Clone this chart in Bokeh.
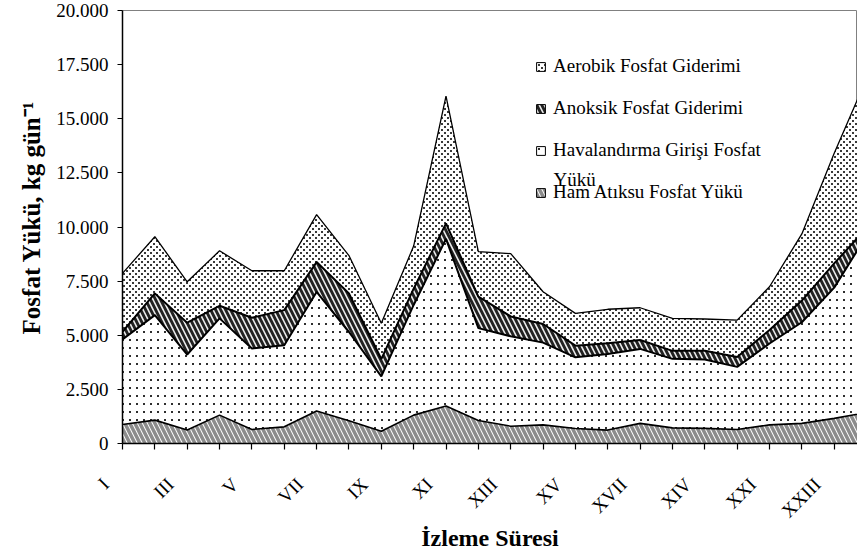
import math
from bokeh.plotting import figure
from bokeh.core.properties import value
from bokeh.models import (ColumnDataSource, Range1d, FixedTicker, CustomJSTickFormatter,
                          Legend, LegendItem, Label, CanvasTexture)
from bokeh.transform import stack
from bokeh.embed import file_html
from bokeh.resources import INLINE

# ---- data (kg/gün) ----
periods = ["I", "II", "III", "IV", "V", "VI", "VII", "VIII", "IX", "X", "XI", "XII",
           "XIII", "XIV", "XV", "XVI", "XVII", "XVIII", "XIV", "XX", "XXI", "XXII", "XXIII", "XXIV"]
ham = [880, 1080, 620, 1310, 650, 770, 1500, 1050, 570, 1310, 1730, 1060,
       800, 860, 690, 620, 930, 720, 700, 650, 860, 930, 1160, 1430]
hav = [3930, 4850, 3490, 4470, 3740, 3770, 5500, 4100, 2530, 5090, 7720, 4270,
       4150, 3800, 3290, 3510, 3440, 3190, 3180, 2890, 3760, 4670, 6040, 8170]
anok = [350, 1000, 1470, 580, 1420, 1620, 1380, 1780, 800, 750, 720, 1450,
        920, 860, 540, 500, 410, 370, 400, 460, 620, 1000, 1120, 350]
aer = [2700, 2620, 1890, 2540, 2170, 1820, 2190, 1750, 1650, 1970, 5880, 2080,
       2900, 1490, 1490, 1570, 1490, 1500, 1470, 1700, 2000, 3080, 5090, 6900]
y_ticks = [0, 2500, 5000, 7500, 10000, 12500, 15000, 17500, 20000]

labels = {
    "aer": "Aerobik Fosfat Giderimi",
    "anok": "Anoksik Fosfat Giderimi",
    "hav": "Havalandırma Girişi Fosfat",
    "ham": "Ham Atıksu Fosfat Yükü",
}

xs = list(range(len(periods)))
src = ColumnDataSource(dict(x=xs, ham=ham, hav=hav, anok=anok, aer=aer))

FONT = "Liberation Serif"
NB = "\u00a0"
PAD = NB * 5   # trailing no-break spaces push the rotated labels left/down

p = figure(frame_width=735, frame_height=433, output_backend="svg", toolbar_location=None,
           x_range=Range1d(0, 22.72), y_range=Range1d(0, 20000),
           min_border_left=122, min_border_right=0, min_border_top=10, min_border_bottom=100)
p.xgrid.visible = False
p.ygrid.visible = False
p.outline_line_color = "#808080"
p.outline_line_width = 1
p.background_fill_color = "white"
p.border_fill_color = "white"

sparse_dots = CanvasTexture(code="""
const c = ctx.canvas;
try { c.width = 7; c.height = 8; } catch (e) {}
const w = c.width;
if (w < 5) { ctx.fillStyle = 'rgba(0,0,0,0.07)'; ctx.fillRect(0, 0, w, w); }
else { ctx.fillStyle = '#2e2e2e'; ctx.fillRect(3, 3, 2, 2); }
""")
dense_dots = CanvasTexture(code="""
const c = ctx.canvas;
try { c.width = 6; c.height = 6; } catch (e) {}
const w = c.width;
if (w < 5) { ctx.fillStyle = 'rgba(0,0,0,0.22)'; ctx.fillRect(0, 0, w, w); }
else { ctx.fillStyle = '#3a3a3a'; ctx.fillRect(0, 0, 2, 2); ctx.fillRect(3, 3, 2, 2); }
""")
extra = {"sparse": sparse_dots, "dense": dense_dots}

styles = {
    "ham": dict(fill_color="white", hatch_pattern="left_diagonal_line", hatch_color="#8c8c8c",
                hatch_scale=10, hatch_weight=3.5),
    "hav": dict(fill_color="white", hatch_pattern=value("sparse"), hatch_color="#333333",
                hatch_scale=7, hatch_weight=1, hatch_extra=extra),
    "anok": dict(fill_color="#222222", hatch_pattern="left_diagonal_line", hatch_color="#eeeeee",
                 hatch_scale=10, hatch_weight=1.6),
    "aer": dict(fill_color="white", hatch_pattern=value("dense"), hatch_color="#3a3a3a",
                hatch_scale=6, hatch_weight=1, hatch_extra=extra),
}

order = ["ham", "hav", "anok", "aer"]
for i, name in enumerate(order):
    below = order[:i]
    p.varea(x="x", y1=stack(*below) if below else 0, y2=stack(*below, name),
            source=src, **styles[name])

line_w = {"ham": 1.6, "hav": 2.0, "anok": 2.0, "aer": 1.3}
for i, name in enumerate(order):
    p.line(x="x", y=stack(*order[:i + 1]), source=src, line_color="black",
           line_width=line_w[name])

# legend proxies (one row of NaN -> nothing drawn on the plot)
nan = float("nan")
proxies = {}
for name in order:
    proxies[name] = p.quad(left=[nan], right=[nan], top=[nan], bottom=[nan], line_color="black",
                           line_width=1, **styles[name])

legend = Legend(items=[LegendItem(label=labels[n], renderers=[proxies[n]])
                       for n in ["aer", "anok", "hav", "ham"]],
                location=(413, 240), orientation="vertical",
                border_line_color=None, background_fill_alpha=0,
                padding=0, margin=0, spacing=20, glyph_width=11, glyph_height=11,
                label_standoff=7, label_text_font=FONT, label_text_font_size="19px",
                label_text_color="black")
p.add_layout(legend)
p.add_layout(Label(x=431, y=264, x_units="screen", y_units="screen", text="Yükü",
                   text_font=FONT, text_font_size="19px", text_baseline="middle",
                   text_color="black"))

# y axis
p.yaxis.ticker = FixedTicker(ticks=y_ticks, minor_ticks=[])
p.yaxis.formatter = CustomJSTickFormatter(
    code="return tick == 0 ? '0' : (tick/1000).toFixed(3);")
p.yaxis.axis_label = NB * 3 + "Fosfat Yükü, kg gün⁻¹"

# x axis
p.xaxis.ticker = FixedTicker(ticks=xs, minor_ticks=[])
p.xaxis.major_label_overrides = {i: ((lab + PAD) if i % 2 == 0 else "")
                                 for i, lab in enumerate(periods)}
p.xaxis.major_label_orientation = math.pi / 4
p.xaxis.major_label_text_font_size = "19px"
p.xaxis.major_label_standoff = 15
p.xaxis.axis_label = "İzleme Süresi"
p.xaxis.axis_label_text_font_size = "24px"
p.xaxis.axis_label_standoff = -7

for ax in (p.xaxis[0], p.yaxis[0]):
    ax.axis_line_color = "black"
    ax.axis_line_width = 1.5
    ax.major_tick_line_color = "black"
    ax.major_tick_line_width = 1.2
    ax.major_tick_in = 0
    ax.minor_tick_line_color = None
    ax.major_label_text_font = FONT
    ax.major_label_text_color = "black"
    ax.axis_label_text_font = FONT
    ax.axis_label_text_font_style = "bold"
    ax.axis_label_text_color = "black"

p.yaxis.major_label_text_font_size = "19px"
p.yaxis.axis_label_text_font_size = "25px"
p.yaxis.major_tick_out = 5
p.yaxis.major_label_standoff = 9
p.yaxis.axis_label_standoff = 8
p.xaxis.major_tick_out = 6

open("out.html", "w").write(file_html(p, INLINE))
